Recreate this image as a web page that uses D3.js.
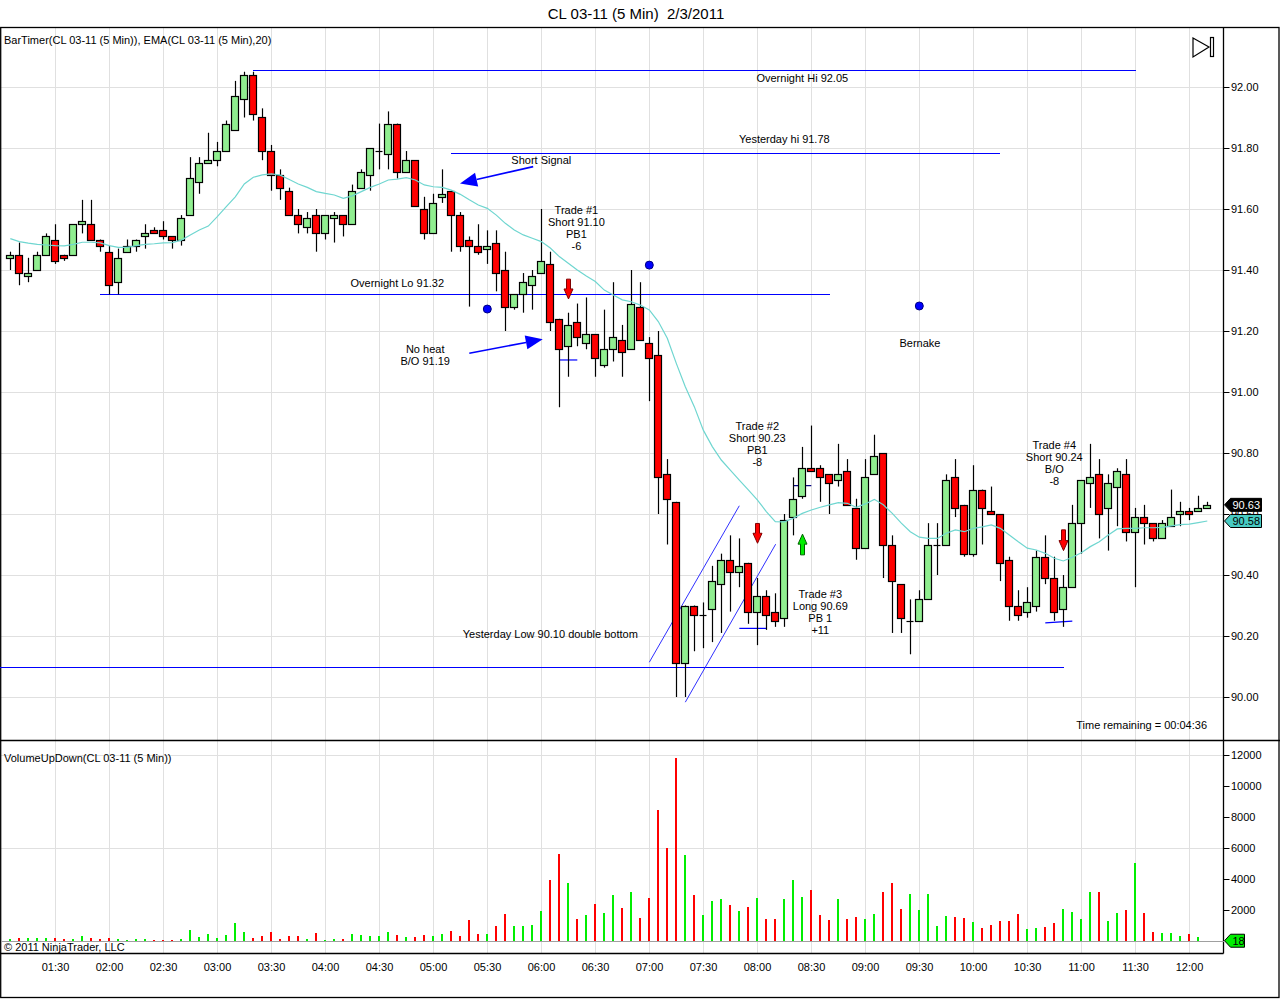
<!DOCTYPE html>
<html><head><meta charset="utf-8">
<script src="https://cdn.jsdelivr.net/npm/d3@7"></script>
<style>
body{margin:0;background:#fff;}
svg{display:block;font-family:"Liberation Sans",Arial,sans-serif;}
</style>
</head><body>
<svg id="c" width="1280" height="999"></svg>
<script>
// ---------------- DATA ----------------
const startTime = "01:05";
const openP = [
91.44,91.45,91.38,91.40,91.45,91.50,91.45,91.45,91.55,91.55,
91.50,91.46,91.36,91.46,91.48,91.51,91.53,91.53,91.51,91.50,
91.58,91.69,91.75,91.76,91.79,91.86,91.96,92.04,91.90,91.79,
91.71,91.66,91.58,91.54,91.58,91.52,91.57,91.58,91.55,91.67,
91.71,91.79,91.78,91.88,91.72,91.76,91.60,91.52,91.64,91.66,
91.58,91.50,91.48,91.47,91.49,91.40,91.28,91.32,91.35,91.39,
91.42,91.24,91.15,91.23,91.16,91.19,91.09,91.14,91.17,91.14,
91.28,91.16,91.12,90.73,90.64,90.11,90.30,90.27,90.29,90.37,
90.45,90.41,90.44,90.28,90.33,90.28,90.26,90.59,90.66,90.75,
90.75,90.73,90.71,90.74,90.62,90.49,90.73,90.80,90.50,90.37,
90.25,90.25,90.32,90.50,90.50,90.72,90.63,90.47,90.68,90.61,
90.60,90.45,90.30,90.28,90.30,90.46,90.39,90.29,90.36,90.57,
90.70,90.73,90.62,90.69,90.73,90.54,90.59,90.57,90.52,90.56,
90.60,90.61,90.61,90.62];
const highP = [
91.46,91.49,91.44,91.46,91.52,91.55,91.45,91.55,91.63,91.63,
91.50,91.48,91.47,91.50,91.50,91.55,91.54,91.56,91.51,91.58,
91.77,91.77,91.85,91.82,91.89,92.02,92.05,92.05,91.93,91.81,
91.73,91.67,91.60,91.59,91.60,91.58,91.59,91.58,91.68,91.73,
91.80,91.88,91.92,91.88,91.79,91.76,91.64,91.65,91.73,91.66,
91.59,91.51,91.55,91.53,91.53,91.46,91.32,91.39,91.40,91.60,
91.46,91.24,91.26,91.29,91.31,91.19,91.27,91.36,91.22,91.40,
91.36,91.18,91.20,90.78,90.64,90.30,90.30,90.31,90.43,90.47,
90.53,90.52,90.44,90.39,90.35,90.34,90.60,90.72,90.82,90.89,
90.76,90.73,90.83,90.78,90.65,90.78,90.86,90.80,90.53,90.37,
90.32,90.35,90.57,90.57,90.73,90.78,90.63,90.76,90.68,90.69,
90.60,90.46,90.35,90.36,90.48,90.53,90.46,90.40,90.63,90.71,
90.83,90.78,90.73,90.75,90.78,90.62,90.63,90.57,90.58,90.68,
90.64,90.62,90.66,90.64];
const lowP = [
91.40,91.35,91.36,91.40,91.45,91.42,91.43,91.45,91.52,91.50,
91.46,91.32,91.32,91.46,91.46,91.47,91.52,91.50,91.47,91.48,
91.58,91.65,91.75,91.74,91.79,91.86,91.90,91.89,91.76,91.66,
91.63,91.58,91.52,91.52,91.46,91.50,91.49,91.51,91.55,91.67,
91.66,91.73,91.73,91.70,91.72,91.61,91.50,91.52,91.62,91.46,
91.46,91.28,91.45,91.42,91.33,91.20,91.27,91.26,91.27,91.39,
91.20,90.95,91.05,91.15,91.14,91.05,91.08,91.10,91.05,91.14,
91.17,90.97,90.60,90.50,90.00,90.00,90.15,90.16,90.18,90.21,
90.28,90.36,90.24,90.17,90.22,90.23,90.23,90.53,90.65,90.74,
90.64,90.60,90.69,90.63,90.45,90.49,90.73,90.39,90.21,90.21,
90.14,90.25,90.32,90.40,90.50,90.59,90.46,90.46,90.50,90.60,
90.38,90.25,90.25,90.26,90.28,90.37,90.25,90.23,90.36,90.47,
90.62,90.52,90.48,90.56,90.51,90.36,90.50,90.51,90.52,90.56,
90.56,90.58,90.61,90.62];
const closeP = [
91.45,91.39,91.39,91.45,91.51,91.43,91.44,91.55,91.56,91.50,
91.48,91.35,91.44,91.48,91.50,91.52,91.52,91.51,91.50,91.57,
91.70,91.75,91.76,91.79,91.88,91.97,92.04,91.91,91.79,91.71,
91.67,91.58,91.55,91.57,91.52,91.58,91.58,91.55,91.66,91.72,
91.80,91.79,91.88,91.72,91.76,91.61,91.52,91.62,91.65,91.58,
91.48,91.48,91.46,91.48,91.39,91.28,91.32,91.36,91.38,91.43,
91.23,91.14,91.22,91.18,91.19,91.11,91.14,91.18,91.13,91.29,
91.17,91.11,90.72,90.65,90.11,90.30,90.27,90.27,90.38,90.45,
90.41,90.43,90.28,90.33,90.27,90.25,90.58,90.65,90.75,90.74,
90.72,90.70,90.73,90.63,90.49,90.72,90.79,90.50,90.38,90.26,
90.25,90.32,90.50,90.50,90.71,90.62,90.47,90.68,90.62,90.60,
90.44,90.30,90.27,90.31,90.46,90.39,90.28,90.36,90.57,90.71,
90.72,90.60,90.70,90.74,90.54,90.59,90.57,90.52,90.57,90.59,
90.61,90.60,90.62,90.63];
const volume = [
130,190,190,190,190,190,130,130,320,190,
130,190,130,65,130,130,65,65,65,130,
710,260,450,190,390,1160,580,190,320,580,
130,320,320,130,520,65,130,130,450,390,
320,320,580,390,260,260,390,320,450,640,
320,1350,450,450,960,1740,960,960,1030,1930,
3920,5590,3730,1410,1670,2380,1800,2960,2120,3150,
1480,2760,8420,5980,11830,5530,2960,1670,2570,2700,
2310,1930,2190,2760,1410,1410,2700,3920,2830,3280,
1670,1350,2700,1410,1540,1410,1740,3150,3730,2060,
3020,1990,3020,960,1610,1540,1480,1220,840,1030,
1290,1290,1740,770,840,900,1160,2060,1860,1410,
3150,3150,1290,1800,1990,5010,1800,580,510,510,
320,450,260,18];
const ema20 = [
91.503,91.493,91.488,91.484,91.482,91.480,91.479,91.484,91.491,91.491,
91.489,91.480,91.474,91.474,91.480,91.484,91.486,91.489,91.490,91.498,
91.515,91.531,91.544,91.575,91.608,91.640,91.682,91.704,91.712,91.715,
91.711,91.697,91.682,91.671,91.657,91.651,91.646,91.635,91.643,91.657,
91.671,91.682,91.695,91.698,91.703,91.695,91.679,91.673,91.671,91.662,
91.648,91.630,91.613,91.602,91.580,91.553,91.531,91.515,91.504,91.493,
91.472,91.444,91.422,91.400,91.380,91.362,91.334,91.318,91.302,91.296,
91.285,91.269,91.231,91.176,91.094,91.017,90.952,90.875,90.821,90.777,
90.744,90.711,90.679,90.646,90.608,90.575,90.574,90.586,90.602,90.613,
90.622,90.630,90.637,90.635,90.622,90.633,90.648,90.630,90.602,90.570,
90.542,90.524,90.520,90.520,90.537,90.548,90.542,90.553,90.558,90.564,
90.553,90.531,90.509,90.488,90.482,90.471,90.455,90.446,90.458,90.473,
90.493,90.509,90.531,90.551,90.553,90.553,90.555,90.555,90.556,90.561,
90.565,90.567,90.572,90.577];
const priceTicks = [90.00,90.20,90.40,90.60,90.80,91.00,91.20,91.40,91.60,91.80,92.00];
const volTicks = [2000,4000,6000,8000,10000,12000];
const volGrid = [6000,12000];

// Annotation objects (bar index / price coordinates)
const levelLines = [
  {text:"Overnight Hi 92.05", price:92.055, from:26.97, to:125.1, tx:88.0, tp:92.03},
  {text:"Yesterday hi 91.78", price:91.785, from:48.97, to:110.0, tx:86.0, tp:91.83},
  {text:"Overnight Lo 91.32", price:91.322, from:10.0, to:91.08, tx:43.0, tp:91.357},
  {text:"Yesterday Low 90.10 double bottom", price:90.10, from:-1.2, to:117.1, tx:60.0, tp:90.207}
];
const textBlocks = [
  {lines:["Short Signal"], tx:59.0, tp:91.761},
  {lines:["Trade #1","Short 91.10","PB1","-6"], tx:62.9, tp:91.597},
  {lines:["No heat","B/O 91.19"], tx:46.1, tp:91.141},
  {lines:["Trade #2","Short 90.23","PB1","-8"], tx:83.0, tp:90.889},
  {lines:["Trade #3","Long 90.69","PB 1","+11"], tx:90.0, tp:90.338},
  {lines:["Trade #4","Short 90.24","B/O","-8"], tx:116.0, tp:90.826},
  {lines:["Bernake"], tx:101.07, tp:91.161}
];
const pointerArrows = [
  {from:[58.1,91.739], to:[49.97,91.684]},
  {from:[51.0,91.127], to:[59.16,91.173]}
];
const dots = [[53,91.272],[71,91.416],[101,91.282]];
const signalArrows = [
  {i:62, top:91.37, tip:91.305, dir:"down"},
  {i:83, top:90.569, tip:90.504, dir:"down"},
  {i:117, top:90.548, tip:90.48, dir:"down"},
  {i:88, top:90.466, tip:90.534, dir:"up"}
];
const entryTicks = [
  {a:[61,91.105], b:[63,91.105], c:"#0000ff"},
  {a:[81,90.225], b:[84,90.225], c:"#0000ff"},
  {a:[87,90.693], b:[89,90.693], c:"#000080"},
  {a:[115,90.243], b:[118,90.249], c:"#0000ff"}
];
const channel = [
  {a:[71.0,90.114], b:[81.0,90.627]},
  {a:[75.0,89.983], b:[85.04,90.501]}
];

// ---------------- LAYOUT ----------------
const svg = d3.select("#c");
const N = closeP.length;
const plotR = 1223.5, priceTop = 27.5, sep = 740.5, volBottom = 953.5;
const x = d3.scaleLinear().domain([0, N-1]).range([10.3, 10.3 + 9*(N-1)]);
const y = d3.scaleLinear().domain([90, 92]).range([697, 87]);
const yv = d3.scaleLinear().domain([0, 12000]).range([941, 755]);
const px = i => Math.round(x(i)) + 0.5;
const py = p => Math.round(y(p)) + 0.5;

// bar times
const [sh, sm] = startTime.split(":").map(Number);
const times = d3.range(N).map(i => { const t = sh*60 + sm + 5*i; return String(Math.floor(t/60)).padStart(2,"0") + ":" + String(t%60).padStart(2,"0"); });
const timeTicks = d3.range(N).filter(i => times[i].endsWith(":00") || times[i].endsWith(":30"));

const FS = "11px";

// title
svg.append("text").attr("x", 636).attr("y", 19).attr("text-anchor","middle")
  .attr("font-size","15px").style("white-space","pre").text("CL 03-11 (5 Min)  2/3/2011");

// grid
const grid = svg.append("g").attr("stroke","#e0e0e0").attr("stroke-width",1).attr("shape-rendering","crispEdges");
grid.selectAll("line.v").data(timeTicks).join("line")
  .attr("x1", px).attr("x2", px).attr("y1", priceTop).attr("y2", volBottom);
grid.selectAll("line.h").data(priceTicks).join("line")
  .attr("x1", 1).attr("x2", plotR).attr("y1", py).attr("y2", py);
grid.selectAll("line.hv").data(volGrid).join("line")
  .attr("x1", 1).attr("x2", plotR).attr("y1", d => Math.round(yv(d))+0.5).attr("y2", d => Math.round(yv(d))+0.5);

// frame
const fr = svg.append("g").attr("stroke","#000").attr("stroke-width",1.3).attr("fill","none");
fr.append("rect").attr("x",0.7).attr("y",priceTop).attr("width",1278.3).attr("height",997.5-priceTop);
fr.append("line").attr("x1",0).attr("x2",1280).attr("y1",sep).attr("y2",sep);
fr.append("line").attr("x1",plotR).attr("x2",plotR).attr("y1",priceTop).attr("y2",volBottom);
fr.append("line").attr("x1",0).attr("x2",plotR).attr("y1",volBottom).attr("y2",volBottom);

// volume baseline
svg.append("line").attr("x1",1).attr("x2",plotR).attr("y1",Math.round(yv(0))+0.5).attr("y2",Math.round(yv(0))+0.5)
  .attr("stroke","#a0a0a0").attr("shape-rendering","crispEdges");

// volume bars
svg.append("g").attr("shape-rendering","crispEdges").selectAll("rect").data(volume).join("rect")
  .attr("x", (d,i) => Math.round(x(i)) - 1).attr("width", 2)
  .attr("y", d => yv(d)).attr("height", d => yv(0) - yv(d))
  .attr("fill", (d,i) => closeP[i] >= openP[i] ? "#00ee00" : "#ff0000");

// level lines
const ann = svg.append("g");
ann.selectAll("line.lvl").data(levelLines).join("line")
  .attr("x1", d => x(d.from)).attr("x2", d => x(d.to))
  .attr("y1", d => py(d.price)).attr("y2", d => py(d.price))
  .attr("stroke","#0000ff").attr("stroke-width",1).attr("shape-rendering","crispEdges");

// channel lines
ann.selectAll("line.ch").data(channel).join("line")
  .attr("x1", d => x(d.a[0])).attr("y1", d => y(d.a[1]))
  .attr("x2", d => x(d.b[0])).attr("y2", d => y(d.b[1]))
  .attr("stroke","#3030ff").attr("stroke-width",1);

// candles
const cg = svg.append("g");
cg.selectAll("line.wick").data(d3.range(N)).join("line")
  .attr("x1", px).attr("x2", px)
  .attr("y1", i => y(highP[i])).attr("y2", i => y(lowP[i]))
  .attr("stroke","#000").attr("stroke-width",1.2);
const bodies = d3.range(N).filter(i => Math.abs(closeP[i]-openP[i]) > 0.001);
cg.selectAll("rect.body").data(bodies).join("rect")
  .attr("x", i => Math.round(x(i)) - 3.5).attr("width", 7)
  .attr("y", i => py(Math.max(openP[i], closeP[i])))
  .attr("height", i => Math.max(1, py(Math.min(openP[i], closeP[i])) - py(Math.max(openP[i], closeP[i]))))
  .attr("fill", i => closeP[i] > openP[i] ? "#90ee90" : "#ff0000")
  .attr("stroke","#000").attr("stroke-width",1.2);
const dojis = d3.range(N).filter(i => Math.abs(closeP[i]-openP[i]) <= 0.001);
cg.selectAll("line.doji").data(dojis).join("line")
  .attr("x1", i => Math.round(x(i)) - 3.5).attr("x2", i => Math.round(x(i)) + 3.5)
  .attr("y1", i => py(closeP[i])).attr("y2", i => py(closeP[i]))
  .attr("stroke","#000").attr("stroke-width",1.2);

// EMA
svg.append("path").datum(ema20)
  .attr("d", d3.line().x((d,i) => x(i)).y(d => y(d)))
  .attr("fill","none").attr("stroke","#6fd6d0").attr("stroke-width",1.2);

// entry ticks
ann.selectAll("line.entry").data(entryTicks).join("line")
  .attr("x1", d => x(d.a[0])).attr("y1", d => y(d.a[1]))
  .attr("x2", d => x(d.b[0])).attr("y2", d => y(d.b[1]))
  .attr("stroke", d => d.c).attr("stroke-width",1.2);

// pointer arrows
pointerArrows.forEach(a => {
  const x1 = x(a.from[0]), y1 = y(a.from[1]), x2 = x(a.to[0]), y2 = y(a.to[1]);
  const ang = Math.atan2(y2-y1, x2-x1), L = 17, W = 7;
  const bx = x2 - L*Math.cos(ang), by = y2 - L*Math.sin(ang);
  const nx = -Math.sin(ang)*W, ny = Math.cos(ang)*W;
  ann.append("line").attr("x1",x1).attr("y1",y1).attr("x2",bx).attr("y2",by)
    .attr("stroke","#0000ff").attr("stroke-width",1.6);
  ann.append("polygon").attr("points", [[x2,y2],[bx+nx,by+ny],[bx-nx,by-ny]].map(p=>p.join(",")).join(" "))
    .attr("fill","#0000ff");
});

// dots
ann.selectAll("circle").data(dots).join("circle")
  .attr("cx", d => x(d[0])).attr("cy", d => y(d[1])).attr("r", 4)
  .attr("fill","#0000ff").attr("stroke","#000080").attr("stroke-width",1);

// signal block arrows
signalArrows.forEach(s => {
  const cx = Math.round(x(s.i)) + 0.5, t = y(s.top), p = y(s.tip);
  const dirv = p > t ? 1 : -1, head = 10;
  const hb = p - dirv*head;
  const pts = [[cx-2,t],[cx+2,t],[cx+2,hb],[cx+4.5,hb],[cx,p],[cx-4.5,hb],[cx-2,hb]];
  ann.append("polygon").attr("points", pts.map(q=>q.join(",")).join(" "))
    .attr("fill", s.dir === "down" ? "#ff0000" : "#00ee00")
    .attr("stroke", s.dir === "down" ? "#800000" : "#006000").attr("stroke-width",1);
});

// texts
const tg = svg.append("g").attr("font-size",FS).attr("fill","#000");
levelLines.forEach(d => {
  tg.append("text").attr("x", x(d.tx)).attr("y", y(d.tp)).attr("dy","0.35em")
    .attr("text-anchor","middle").text(d.text);
});
textBlocks.forEach(b => {
  b.lines.forEach((l, k) => {
    tg.append("text").attr("x", x(b.tx)).attr("y", y(b.tp) + 12*k).attr("dy","0.35em")
      .attr("text-anchor","middle").text(l);
  });
});
tg.append("text").attr("x",4).attr("y",44).text("BarTimer(CL 03-11 (5 Min)), EMA(CL 03-11 (5 Min),20)");
tg.append("text").attr("x",1207).attr("y",729).attr("text-anchor","end").text("Time remaining = 00:04:36");
tg.append("text").attr("x",4).attr("y",762).text("VolumeUpDown(CL 03-11 (5 Min))");
tg.append("text").attr("x",4).attr("y",951).text("\u00a9 2011 NinjaTrader, LLC");

// play icon
svg.append("polygon").attr("points","1193,38 1209,47 1193,57").attr("fill","none").attr("stroke","#000").attr("stroke-width",1.2);
svg.append("rect").attr("x",1210.5).attr("y",37.5).attr("width",3).attr("height",19).attr("fill","none").attr("stroke","#000").attr("stroke-width",1.2);

// price axis
const ax = svg.append("g").attr("font-size",FS);
ax.selectAll("line.pt").data(priceTicks).join("line")
  .attr("x1",plotR).attr("x2",plotR+6).attr("y1",py).attr("y2",py).attr("stroke","#000");
ax.selectAll("text.pl").data(priceTicks).join("text")
  .attr("x",1231).attr("y", d => y(d)).attr("dy","0.35em").text(d => d.toFixed(2));
// volume axis
ax.selectAll("line.vt").data(volTicks).join("line")
  .attr("x1",plotR).attr("x2",plotR+6).attr("y1", d => Math.round(yv(d))+0.5).attr("y2", d => Math.round(yv(d))+0.5).attr("stroke","#000");
ax.selectAll("text.vl").data(volTicks).join("text")
  .attr("x",1231).attr("y", d => yv(d)).attr("dy","0.35em").text(d => d);
// time axis
ax.selectAll("text.tl").data(timeTicks).join("text")
  .attr("x", px).attr("y", 971).attr("text-anchor","middle").text(i => times[i]);

// value tags (drawn over the axis, as in the reference)
function tag(yc, w, fill, stroke, txt, tcol) {
  const x0 = plotR + 1, h = 6.5;
  svg.append("polygon").attr("points", [[x0,yc],[x0+6,yc-h],[x0+w,yc-h],[x0+w,yc+h],[x0+6,yc+h]].map(p=>p.join(",")).join(" "))
    .attr("fill", fill).attr("stroke", stroke).attr("stroke-width",1);
  svg.append("text").attr("x", x0+8).attr("y", yc).attr("dy","0.35em").attr("font-size",FS).attr("fill",tcol).text(txt);
}
tag(y(closeP[N-1]), 37, "#000", "#000", closeP[N-1].toFixed(2), "#fff");
tag(y(ema20[N-1]), 37, "#48cbc3", "#000", ema20[N-1].toFixed(2), "#000");
tag(yv(volume[N-1]), 20, "#00ee00", "#000", String(volume[N-1]), "#000");
</script>
</body></html>
